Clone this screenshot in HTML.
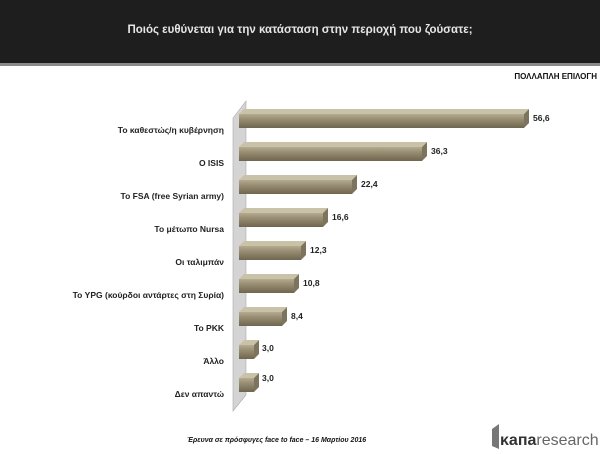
<!DOCTYPE html>
<html><head><meta charset="utf-8"><style>
body{margin:0;width:600px;height:449px;background:#fff;overflow:hidden;font-family:"Liberation Sans",sans-serif}
</style></head><body>
<svg width="600" height="449" xmlns="http://www.w3.org/2000/svg">
<defs>
<linearGradient id="bf" x1="0" y1="0" x2="0" y2="1">
<stop offset="0" stop-color="#b4ab91"/><stop offset="0.35" stop-color="#9a8f73"/><stop offset="1" stop-color="#6f664f"/>
</linearGradient>
</defs>
<rect x="0" y="0" width="600" height="63" fill="#1e1e1e"/>
<rect x="0" y="63" width="600" height="3" fill="#8a8a8a"/>
<text x="300" y="33" text-anchor="middle" fill="#e6e6e6" font-size="11.5" font-weight="bold">Ποιός ευθύνεται για την κατάσταση στην περιοχή που ζούσατε;</text>
<text x="597" y="79" text-anchor="end" fill="#111" font-size="8" font-weight="bold">ΠΟΛΛΑΠΛΗ ΕΠΙΛΟΓΗ</text>
<polygon points="233,118 246,101 246,395 233,411" fill="#d4d4d4" stroke="#aaa" stroke-width="0.6"/>
<g font-size="8.5" font-weight="bold" fill="#222">
<polygon points="239,114 244,109 529,109 524,114" fill="#c9c1a8"/><polygon points="524,114 529,109 529,123 524,128" fill="#7d745d"/><rect x="239" y="114" width="285" height="14" fill="url(#bf)"/>
<text x="533" y="121">56,6</text><text x="224" y="133" text-anchor="end">Το καθεστώς/η κυβέρνηση</text>
<polygon points="239,147 244,142 427,142 422,147" fill="#c9c1a8"/><polygon points="422,147 427,142 427,156 422,161" fill="#7d745d"/><rect x="239" y="147" width="183" height="14" fill="url(#bf)"/>
<text x="431" y="154">36,3</text><text x="224" y="166" text-anchor="end">Ο ISIS</text>
<polygon points="239,180 244,175 357,175 352,180" fill="#c9c1a8"/><polygon points="352,180 357,175 357,189 352,194" fill="#7d745d"/><rect x="239" y="180" width="113" height="14" fill="url(#bf)"/>
<text x="361" y="187">22,4</text><text x="224" y="199" text-anchor="end">Το FSA (free Syrian army)</text>
<polygon points="239,213 244,208 328,208 323,213" fill="#c9c1a8"/><polygon points="323,213 328,208 328,222 323,227" fill="#7d745d"/><rect x="239" y="213" width="84" height="14" fill="url(#bf)"/>
<text x="332" y="220">16,6</text><text x="224" y="232" text-anchor="end">Το μέτωπο Nursa</text>
<polygon points="239,246 244,241 306,241 301,246" fill="#c9c1a8"/><polygon points="301,246 306,241 306,255 301,260" fill="#7d745d"/><rect x="239" y="246" width="62" height="14" fill="url(#bf)"/>
<text x="310" y="253">12,3</text><text x="224" y="265" text-anchor="end">Οι ταλιμπάν</text>
<polygon points="239,279 244,274 299,274 294,279" fill="#c9c1a8"/><polygon points="294,279 299,274 299,288 294,293" fill="#7d745d"/><rect x="239" y="279" width="55" height="14" fill="url(#bf)"/>
<text x="303" y="286">10,8</text><text x="224" y="298" text-anchor="end">Το YPG (κούρδοι αντάρτες στη Συρία)</text>
<polygon points="239,312 244,307 287,307 282,312" fill="#c9c1a8"/><polygon points="282,312 287,307 287,321 282,326" fill="#7d745d"/><rect x="239" y="312" width="43" height="14" fill="url(#bf)"/>
<text x="291" y="319">8,4</text><text x="224" y="331" text-anchor="end">Το PKK</text>
<polygon points="239,345 244,340 259,340 254,345" fill="#c9c1a8"/><polygon points="254,345 259,340 259,354 254,359" fill="#7d745d"/><rect x="239" y="345" width="15" height="14" fill="url(#bf)"/>
<text x="262" y="351">3,0</text><text x="224" y="364" text-anchor="end">Άλλο</text>
<polygon points="239,378 244,373 259,373 254,378" fill="#c9c1a8"/><polygon points="254,378 259,373 259,387 254,392" fill="#7d745d"/><rect x="239" y="378" width="15" height="14" fill="url(#bf)"/>
<text x="262" y="381">3,0</text><text x="224" y="397" text-anchor="end">Δεν απαντώ</text>
</g>
<text x="187" y="442" fill="#111" font-size="7" font-weight="bold" font-style="italic">Έρευνα σε πρόσφυγες face to face – 16 Μαρτίου 2016</text>
<polygon points="492,429 499,424 499,449 492,446" fill="#777"/>
<text x="500" y="445" fill="#333" font-size="16" font-weight="bold">κапа<tspan font-weight="normal" fill="#666">research</tspan></text>
</svg>
</body></html>
